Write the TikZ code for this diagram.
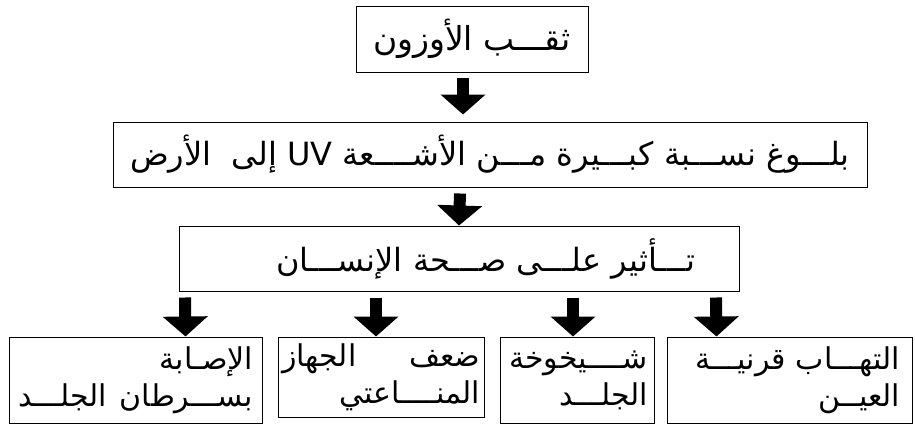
\documentclass[tikz,border=0pt]{standalone}
\usepackage{fontspec}
\newfontfamily\arabicfont[Script=Arabic]{DejaVu Sans}
\TeXXeTstate=1
\usetikzlibrary{arrows.meta}

\newcommand{\artext}[1]{\beginR #1\endR}

\begin{document}
\begin{tikzpicture}[x=1pt, y=-1pt,
  box/.style={draw=black, line width=1pt, inner sep=0pt, align=right,
    font=\arabicfont\fontsize{32}{38}\selectfont},
  effect/.style={box, font=\arabicfont\fontsize{30}{37}\selectfont},
  arrow/.style={-{Triangle[width=44pt, length=20pt]}, line width=12pt}
]
\useasboundingbox (0,0) rectangle (915,426);

% chain of causes
\node[box, minimum width=232pt, minimum height=66pt, align=center,
  font=\arabicfont\fontsize{33}{38}\selectfont] (ozone) at (472,39)
  {\artext{ثقـــب الأوزون}};
\node[box, minimum width=754pt, minimum height=65pt, align=center] (uv) at (490,154.5)
  {\artext{بلـــوغ نســـبة كبـــيرة مـــن الأشــــعة \beginL UV\endL{} إلى\ \ الأرض}};
\node[box, text width=472pt, inner xsep=44pt, minimum height=65pt] (health) at (459,258.5)
  {\artext{تـــأثير علـــى صـــحة الإنســـان}};

% effects
\node[effect, text width=235pt, inner xsep=9pt, minimum height=86pt] (cancer) at (135.5,380)
  {\artext{الإصـابة}\\\artext{بســـرطان\hfill الجلـــد}};
\node[effect, text width=198pt, inner xsep=4pt, minimum height=80pt] (immune) at (381,377)
  {\artext{ضعف\hfill الجهاز}\\\artext{المنــــاعتي}};
\node[effect, text width=142pt, inner xsep=6pt, minimum height=86pt] (aging) at (577,380)
  {\artext{شــــيخوخة}\\\artext{الجلـــد}};
\node[effect, text width=221pt, inner xsep=12pt, minimum height=86pt] (cornea) at (789.5,380)
  {\artext{التهـــاب قرنيـــة}\\\artext{العيــن}};

\draw[arrow] ([xshift=-9pt, yshift=-5pt]ozone.south) -- ([xshift=-27pt, yshift=7pt]uv.north);
\draw[arrow] ([xshift=-30pt, yshift=-6pt]uv.south) -- (health.north);
\draw[arrow] ([xshift=-274pt, yshift=-6pt]health.south) -- ([xshift=50pt]cancer.north);
\draw[arrow] ([xshift=-83pt, yshift=-6pt]health.south) -- ([xshift=-5pt]immune.north);
\draw[arrow] ([xshift=114pt, yshift=-6pt]health.south) -- ([xshift=-4pt]aging.north);
\draw[arrow] ([xshift=257pt, yshift=-6pt]health.south) -- ([xshift=-73pt]cornea.north);
\end{tikzpicture}
\end{document}
